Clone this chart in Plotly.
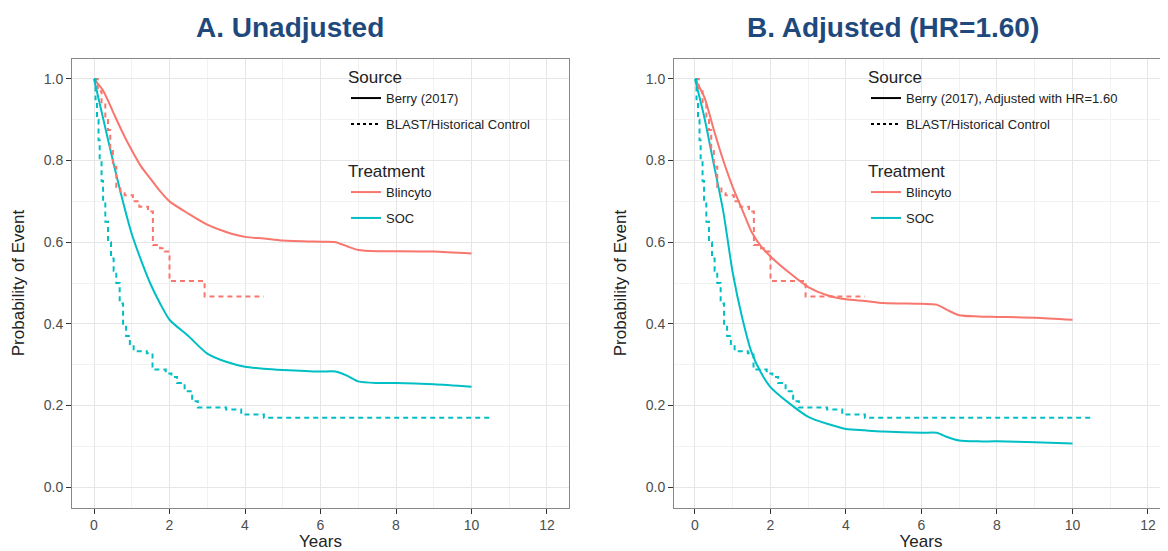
import plotly.graph_objects as go

# ---------------- data ----------------
years_berry = [0, 0.25, 0.5, 0.75, 1.0, 1.25, 1.5, 1.75, 2.0, 2.5, 3.0, 3.5,
               4.0, 4.5, 5.0, 6.0, 6.4, 6.7, 7.0, 7.5, 8.0, 9.0, 10.0]
berry_blincyto = [1.0, 0.97, 0.92, 0.87, 0.825, 0.785, 0.755, 0.725, 0.70, 0.67,
                  0.643, 0.625, 0.613, 0.609, 0.604, 0.601, 0.600, 0.590, 0.581,
                  0.578, 0.578, 0.577, 0.572]
berry_soc = [1.0, 0.9, 0.8, 0.705, 0.62, 0.555, 0.497, 0.45, 0.41, 0.37, 0.327,
             0.307, 0.295, 0.29, 0.287, 0.283, 0.283, 0.273, 0.259, 0.255, 0.255,
             0.252, 0.246]
adj_blincyto = [1.0, 0.955, 0.875, 0.80, 0.735, 0.68, 0.625, 0.59, 0.565, 0.525,
                0.49, 0.47, 0.46, 0.456, 0.451, 0.449, 0.447, 0.433, 0.421, 0.418,
                0.417, 0.415, 0.41]
adj_soc = [1.0, 0.905, 0.79, 0.675, 0.525, 0.415, 0.33, 0.28, 0.245, 0.205, 0.172,
           0.155, 0.1425, 0.139, 0.136, 0.133, 0.133, 0.122, 0.114, 0.112, 0.112,
           0.11, 0.107]

blast_blin_t = [0, 0.1, 0.2, 0.3, 0.37, 0.43, 0.5, 0.59, 0.7, 0.81, 1.03, 1.2,
                1.43, 1.56, 1.75, 1.87, 2.0, 2.93, 4.5]
blast_blin_s = [1.0, 0.97, 0.94, 0.905, 0.875, 0.83, 0.785, 0.735, 0.72, 0.715,
                0.70, 0.687, 0.675, 0.593, 0.585, 0.577, 0.505, 0.467, 0.467]
blast_soc_t = [0, 0.04, 0.08, 0.12, 0.15, 0.2, 0.24, 0.3, 0.37, 0.45, 0.52, 0.59,
               0.68, 0.77, 0.85, 0.95, 1.05, 1.4, 1.55, 1.9, 2.05, 2.2, 2.4, 2.6,
               2.75, 3.5, 3.9, 4.5, 10.5]
blast_soc_s = [1.0, 0.95, 0.9, 0.85, 0.8, 0.75, 0.7, 0.65, 0.6, 0.56, 0.53, 0.5,
               0.45, 0.4, 0.37, 0.345, 0.333, 0.328, 0.288, 0.278, 0.27, 0.255,
               0.235, 0.21, 0.195, 0.19, 0.178, 0.17, 0.17]

panel_titles = ["A. Unadjusted", "B. Adjusted (HR=1.60)"]
source_labels_left = ["Berry (2017)", "BLAST/Historical Control"]
source_labels_right = ["Berry (2017), Adjusted with HR=1.60", "BLAST/Historical Control"]
treatments = ["Blincyto", "SOC"]
x_ticks = [0, 2, 4, 6, 8, 10, 12]
y_ticks = [0.0, 0.2, 0.4, 0.6, 0.8, 1.0]

# ---------------- style ----------------
OFF = 8                      # page body margin of the browser
W, H = 1168 - OFF, 551 - OFF
RED = "#F8766D"
TEAL = "#00BFC4"
DOT = "5px,4px"
FONT = "Liberation Sans, Arial, sans-serif"


def fx(px):
    return (px - OFF) / W


def fy(py):
    return 1 - (py - OFF) / H


fig = go.Figure()


def add_panel(xa, ya, berry_b, berry_s, leg_src, leg_trt, src_labels):
    fig.add_trace(go.Scatter(x=years_berry, y=berry_b, mode="lines", xaxis=xa, yaxis=ya,
                             line=dict(color=RED, width=2, shape="spline", smoothing=0.7),
                             showlegend=False, hoverinfo="skip"))
    fig.add_trace(go.Scatter(x=years_berry, y=berry_s, mode="lines", xaxis=xa, yaxis=ya,
                             line=dict(color=TEAL, width=2, shape="spline", smoothing=0.7),
                             showlegend=False, hoverinfo="skip"))
    fig.add_trace(go.Scatter(x=blast_blin_t, y=blast_blin_s, mode="lines", xaxis=xa, yaxis=ya,
                             line=dict(color=RED, width=2, dash=DOT, shape="hv"),
                             showlegend=False, hoverinfo="skip"))
    fig.add_trace(go.Scatter(x=blast_soc_t, y=blast_soc_s, mode="lines", xaxis=xa, yaxis=ya,
                             line=dict(color=TEAL, width=2, dash=DOT, shape="hv"),
                             showlegend=False, hoverinfo="skip"))
    # legend entries: one group per entry so the entry spacing can be set
    for i, (lab, dash) in enumerate(zip(src_labels, ["solid", "3px,3px"])):
        fig.add_trace(go.Scatter(x=[None], y=[None], mode="lines", xaxis=xa, yaxis=ya,
                                 name=lab, legend=leg_src, legendgroup=f"{leg_src}_{i}",
                                 line=dict(color="black", width=2, dash=dash)))
    for i, (lab, col) in enumerate(zip(treatments, [RED, TEAL])):
        fig.add_trace(go.Scatter(x=[None], y=[None], mode="lines", xaxis=xa, yaxis=ya,
                                 name=lab, legend=leg_trt, legendgroup=f"{leg_trt}_{i}",
                                 line=dict(color=col, width=2)))


add_panel("x", "y", berry_blincyto, berry_soc, "legend", "legend3", source_labels_left)
add_panel("x2", "y2", adj_blincyto, adj_soc, "legend2", "legend4", source_labels_right)

ytop, ybot = 58.5, 507.5
ydom = [fy(ybot), fy(ytop)]


def xaxis_cfg(dom, rng, mirror=True):
    return dict(domain=dom, range=rng, tickvals=x_ticks, ticks="outside", ticklen=5,
                tickcolor="#333", tickfont=dict(size=14, color="#4d4d4d", family=FONT),
                showgrid=True, gridcolor="#e6e6e6", gridwidth=1, zeroline=False,
                showline=True, linecolor="#888", linewidth=1, mirror=mirror,
                minor=dict(dtick=1, tick0=0, showgrid=True, gridcolor="#f2f2f2", gridwidth=0.7),
                title=dict(text="Years", font=dict(size=17, color="#222", family=FONT), standoff=6),
                automargin=False)


def yaxis_cfg(anchor, mirror=True):
    return dict(domain=ydom, range=[-0.05, 1.05], tickvals=y_ticks,
                ticktext=[f"{v:.1f}" for v in y_ticks],
                anchor=anchor, ticks="outside", ticklen=5, tickcolor="#333",
                tickfont=dict(size=14, color="#4d4d4d", family=FONT),
                showgrid=True, gridcolor="#e6e6e6", gridwidth=1, zeroline=False,
                showline=True, linecolor="#888", linewidth=1, mirror=mirror,
                minor=dict(dtick=0.1, tick0=0, showgrid=True, gridcolor="#f2f2f2", gridwidth=0.7),
                title=dict(text="Probability of Event", font=dict(size=17, color="#222", family=FONT),
                           standoff=14),
                automargin=False)


def legend_cfg(px, py, title):
    return dict(x=fx(px), y=fy(py), xanchor="left", yanchor="top",
                bgcolor="rgba(0,0,0,0)", font=dict(size=13, color="#222", family=FONT),
                title=dict(text=title, font=dict(size=17, color="#222", family=FONT)),
                tracegroupgap=6, traceorder="grouped", itemwidth=30)


fig.update_layout(
    width=W, height=H,
    margin=dict(l=0, r=0, t=0, b=0),
    paper_bgcolor="white", plot_bgcolor="white",
    font=dict(family=FONT, color="#222"),
    xaxis=xaxis_cfg([fx(72), fx(569)], [-0.583, 12.583]),
    yaxis=yaxis_cfg("x"),
    xaxis2=xaxis_cfg([fx(674), 1.0], [-0.556, 12.53]),
    yaxis2=yaxis_cfg("x2", mirror=False),
    legend=legend_cfg(346, 61, "Source"),
    legend3=legend_cfg(346, 155, "Treatment"),
    legend2=legend_cfg(866, 61, "Source"),
    legend4=legend_cfg(866, 155, "Treatment"),
    showlegend=True,
)

for txt, cx in zip(panel_titles, [290, 893]):
    fig.add_annotation(text=f"<b>{txt}</b>", x=fx(cx), y=fy(27), xref="paper", yref="paper",
                       xanchor="center", yanchor="middle", showarrow=False,
                       font=dict(size=28, color="#1F497D", family=FONT))

fig.write_html("out.html")
